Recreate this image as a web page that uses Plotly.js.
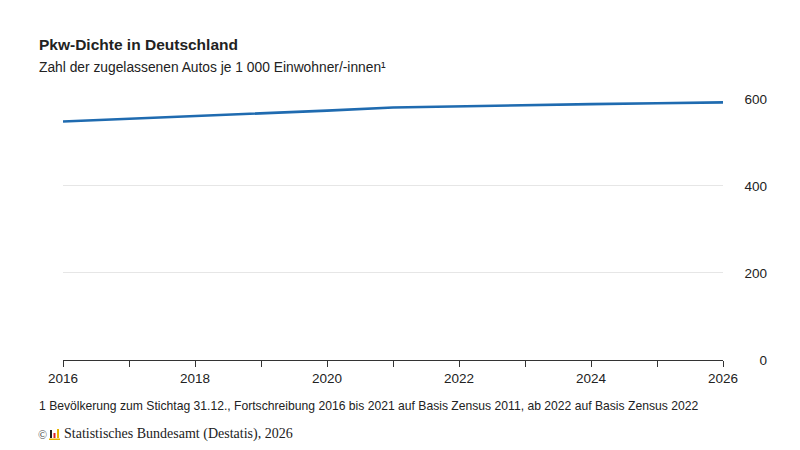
<!DOCTYPE html>
<html>
<head>
<meta charset="utf-8">
<script src="https://cdn.plot.ly/plotly-3.0.1.min.js"></script>
<style>html,body{margin:0;padding:0;background:#fff;}#chart{width:800px;height:450px;}</style>
</head>
<body>
<div id="chart"></div>
<script>
const years = [2016, 2017, 2018, 2019, 2020, 2021, 2022, 2023, 2024, 2025, 2026];
const pkwDichte = [548, 554, 560, 566, 573, 580, 583, 586, 588, 590, 592];
const xTickVals = [2016, 2018, 2020, 2022, 2024, 2026];
const yTickVals = [0, 200, 400, 600];

const titleText = 'Pkw-Dichte in Deutschland';
const subtitleText = 'Zahl der zugelassenen Autos je 1 000 Einwohner/-innen¹';
const footnoteText = '1 Bevölkerung zum Stichtag 31.12., Fortschreibung 2016 bis 2021 auf Basis Zensus 2011, ab 2022 auf Basis Zensus 2022';
const sourceText = 'Statistisches Bundesamt (Destatis), 2026';

const W = 800, H = 450, L = 63, R = 25, T = 98, B = 90;
const pw = W - L - R, ph = H - T - B;
const px = x => (x - L) / pw;
const py = y => (H - B - y) / ph;

const trace = {
  x: years, y: pkwDichte, type: 'scatter', mode: 'lines',
  line: {color: '#1f6bb0', width: 2.6},
  hoverinfo: 'x+y'
};

const layout = {
  width: W, height: H,
  margin: {l: L, r: R, t: T, b: B, pad: 0},
  paper_bgcolor: '#fff', plot_bgcolor: '#fff',
  font: {family: 'Liberation Sans, Arial, sans-serif', color: '#222', size: 13},
  showlegend: false,
  xaxis: {
    domain: [0, (723 - L) / pw],
    range: [2016, 2026],
    tickvals: xTickVals,
    ticktext: xTickVals.map(String),
    ticks: 'outside', ticklen: 6, tickcolor: '#333', tickwidth: 1,
    minor: {dtick: 1, tick0: 2016, ticks: 'outside', ticklen: 6, tickcolor: '#333', tickwidth: 1, showgrid: false},
    showline: true, linecolor: '#333', linewidth: 1,
    showgrid: false, zeroline: false,
    tickfont: {size: 13.5, color: '#222'}
  },
  yaxis: {
    range: [0, 602],
    tickvals: yTickVals,
    anchor: 'free', position: px(767), side: 'left',
    ticks: '', showline: false, zeroline: false,
    showgrid: true, gridcolor: '#e6e6e6', gridwidth: 1,
    tickfont: {size: 13.5, color: '#222'}
  },
  annotations: [
    {text: '<b>' + titleText + '</b>', xref: 'paper', yref: 'paper', x: px(37), y: py(44), xanchor: 'left', yanchor: 'middle', showarrow: false, font: {size: 15.5, color: '#222'}},
    {text: subtitleText, xref: 'paper', yref: 'paper', x: px(37), y: py(68), xanchor: 'left', yanchor: 'middle', showarrow: false, font: {size: 13.8, color: '#222'}},
    {text: footnoteText, xref: 'paper', yref: 'paper', x: px(37), y: py(406), xanchor: 'left', yanchor: 'middle', showarrow: false, font: {size: 12.15, color: '#222'}},
    {text: '©', xref: 'paper', yref: 'paper', x: px(36), y: py(435), xanchor: 'left', yanchor: 'middle', showarrow: false, font: {family: 'Liberation Serif, Times New Roman, serif', size: 12, color: '#444'}},
    {text: sourceText, xref: 'paper', yref: 'paper', x: px(62), y: py(434), xanchor: 'left', yanchor: 'middle', showarrow: false, font: {family: 'Liberation Serif, Times New Roman, serif', size: 14, color: '#222'}}
  ],
  shapes: [
    {type: 'rect', xref: 'paper', yref: 'paper', x0: px(50), x1: px(52), y0: py(438), y1: py(430), fillcolor: '#222', line: {width: 0}},
    {type: 'rect', xref: 'paper', yref: 'paper', x0: px(53.5), x1: px(55.5), y0: py(438), y1: py(433), fillcolor: '#d22', line: {width: 0}},
    {type: 'rect', xref: 'paper', yref: 'paper', x0: px(57), x1: px(59), y0: py(438), y1: py(429), fillcolor: '#e8b400', line: {width: 0}},
    {type: 'rect', xref: 'paper', yref: 'paper', x0: px(49), x1: px(60), y0: py(440), y1: py(438.5), fillcolor: '#e8b400', line: {width: 0}}
  ]
};

Plotly.newPlot('chart', [trace], layout, {displayModeBar: false, staticPlot: true});
</script>
</body>
</html>
